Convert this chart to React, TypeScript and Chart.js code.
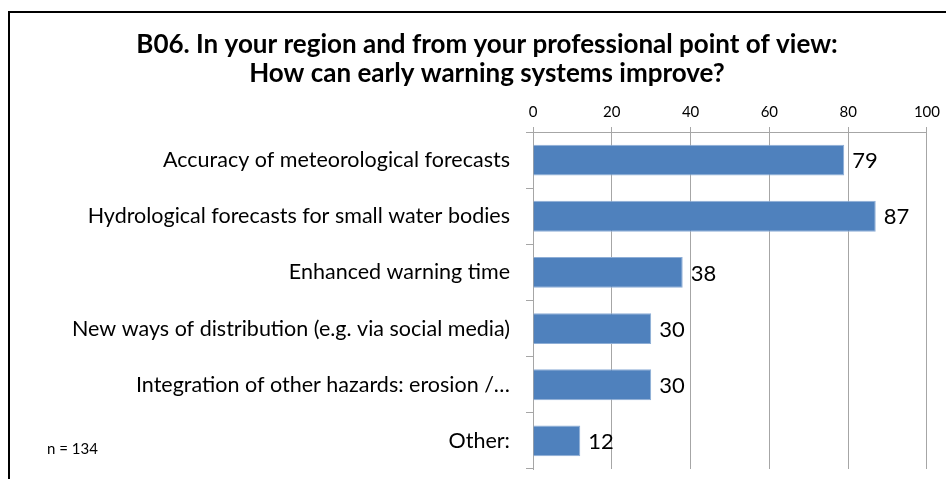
import React, { useEffect, useRef } from "react";
import { Chart, registerables } from "chart.js";

Chart.register(...registerables);

const titleLines = [
  "B06. In your region and from your professional point of view:",
  "How can early warning systems improve?",
];
const categories = [
  "Accuracy of meteorological forecasts",
  "Hydrological forecasts for small water bodies",
  "Enhanced warning time",
  "New ways of distribution (e.g. via social media)",
  "Integration of other hazards: erosion /…",
  "Other:",
];
const responses = [79, 87, 38, 30, 30, 12];
const sampleNote = "n = 134";
const axisMin = 0;
const axisMax = 100;
const axisStep = 20;

const FONT = "Lato, 'Open Sans', sans-serif";
const BAR_BLUE = "#4F81BD";
const GRID_GREY = "#a6a6a6";
const W = 946;
const H = 479;

// Frame, title, sample size note and value labels drawn on the canvas
const decorations = {
  id: "decorations",
  beforeDraw(chart: Chart) {
    const { ctx, width, height } = chart;
    ctx.save();
    ctx.fillStyle = "#ffffff";
    ctx.fillRect(0, 0, width, height);
    ctx.strokeStyle = "#000000";
    ctx.lineWidth = 2;
    ctx.beginPath();
    ctx.moveTo(9, height);
    ctx.lineTo(9, 12);
    ctx.lineTo(width, 12);
    ctx.stroke();
    ctx.restore();
  },
  afterDraw(chart: Chart) {
    const { ctx } = chart;
    ctx.save();
    ctx.fillStyle = "#000000";
    ctx.textAlign = "center";
    ctx.textBaseline = "alphabetic";
    ctx.font = `bold 26px ${FONT}`;
    ctx.fillText(titleLines[0], 487, 53);
    ctx.fillText(titleLines[1], 487, 82);

    ctx.textAlign = "left";
    ctx.textBaseline = "middle";
    ctx.font = `15px ${FONT}`;
    ctx.fillText(sampleNote, 47, 449);

    ctx.font = `22px ${FONT}`;
    const meta = chart.getDatasetMeta(0);
    meta.data.forEach((bar: any, i: number) => {
      ctx.fillText(String(responses[i]), bar.x + 8, bar.y + 1);
    });
    ctx.restore();
  },
};

export default function App() {
  const canvasRef = useRef<HTMLCanvasElement | null>(null);

  useEffect(() => {
    if (!canvasRef.current) return;
    const chart = new Chart(canvasRef.current, {
      type: "bar",
      data: {
        labels: categories,
        datasets: [
          {
            data: responses,
            backgroundColor: BAR_BLUE,
            borderColor: "#8eaed6",
            borderWidth: 1,
            barPercentage: 0.55,
            categoryPercentage: 1,
          },
        ],
      },
      options: {
        indexAxis: "y",
        animation: false,
        responsive: false,
        devicePixelRatio: 1,
        layout: { padding: { left: 9, right: 17, top: 90, bottom: 10 } },
        plugins: {
          legend: { display: false },
          title: { display: false },
          tooltip: { enabled: false },
        },
        scales: {
          x: {
            position: "top",
            min: axisMin,
            max: axisMax,
            ticks: {
              stepSize: axisStep,
              color: "#000000",
              font: { family: FONT, size: 15 },
              padding: 6,
            },
            grid: {
              color: GRID_GREY,
              lineWidth: 1,
              tickLength: 5,
              drawOnChartArea: true,
            },
            border: { display: true, color: GRID_GREY },
            afterFit(scale: any) {
              scale.height = 42;
            },
          },
          y: {
            ticks: {
              color: "#000000",
              font: { family: FONT, size: 21.5 },
              padding: 16,
              autoSkip: false,
            },
            grid: {
              offset: true,
              drawOnChartArea: false,
              drawTicks: true,
              tickLength: 7,
              color: GRID_GREY,
            },
            border: { display: true, color: GRID_GREY },
            afterFit(scale: any) {
              scale.width = 524;
              scale.paddingTop = 0;
              scale.paddingBottom = 0;
            },
          },
        },
      },
      plugins: [decorations],
    });
    return () => chart.destroy();
  }, []);

  return (
    <div
      style={{
        position: "fixed",
        left: 0,
        top: 0,
        width: W,
        height: H,
        background: "#ffffff",
      }}
    >
      <canvas ref={canvasRef} width={W} height={H} style={{ display: "block" }} />
    </div>
  );
}
